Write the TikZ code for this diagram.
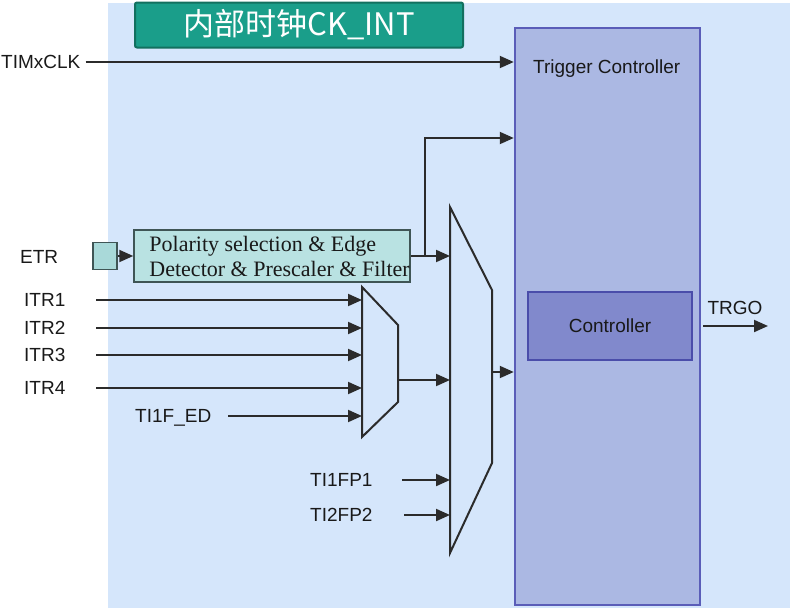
\documentclass[tikz,border=0pt]{standalone}
\usepackage{fontspec}
\setmainfont{Liberation Sans}
\newfontfamily\cjkfont{Noto Sans CJK SC}
\newfontfamily\serifface{Liberation Serif}
\usetikzlibrary{arrows.meta,positioning,calc}

\definecolor{bgblue}{HTML}{D5E6FB}
\definecolor{titlegreen}{HTML}{1A9E8A}
\definecolor{titleedge}{HTML}{12705F}
\definecolor{trigfill}{HTML}{ABB8E3}
\definecolor{trigedge}{HTML}{5A5DB8}
\definecolor{ctrlfill}{HTML}{8189CC}
\definecolor{ctrledge}{HTML}{4A4DAA}
\definecolor{polfill}{HTML}{B9E2E2}
\definecolor{etrfill}{HTML}{A9D9D9}
\definecolor{boxedge}{HTML}{3F5555}
\definecolor{wire}{HTML}{2B2B2B}

\begin{document}
\begin{tikzpicture}[x=1pt,y=-1pt,>={Triangle[length=14pt,width=12pt]},
  wirel/.style={draw=wire,line width=2pt},
  lbl/.style={font=\fontsize{19}{22}\selectfont,text=black!90,inner sep=2pt,text height=13.5pt,text depth=0pt},
  titlebox/.style={fill=titlegreen,draw=titleedge,line width=2pt,rounded corners=2pt,minimum width=328pt,minimum height=45pt,inner sep=0pt,text=white,font=\cjkfont\fontsize{31}{36}\selectfont},
  trigbox/.style={fill=trigfill,draw=trigedge,line width=2.5pt,inner sep=0pt},
  ctrlbox/.style={fill=ctrlfill,draw=ctrledge,line width=2pt,minimum width=164pt,minimum height=68pt,inner sep=0pt,font=\fontsize{19}{22}\selectfont,text=black!90},
  polbox/.style={fill=polfill,draw=boxedge,line width=1.5pt,minimum width=276pt,minimum height=52pt,inner sep=0pt},
  poltext/.style={inner sep=0pt,align=left,text=black!90,font=\serifface\fontsize{22}{25}\selectfont},
  etrbox/.style={fill=etrfill,draw=boxedge,line width=1.5pt,minimum width=24pt,minimum height=27pt,inner sep=0pt}]
\useasboundingbox (0,0) rectangle (790,608);
\fill[bgblue] (108,3) rectangle (790,608);

% title and trigger controller
\node[titlebox] (title) at (299,25) {内部时钟CK\_INT};
\node[trigbox,minimum width=185pt,minimum height=577pt] (trig) at (607.5,316.5) {};
\node[lbl,anchor=west] (trigtxt) at (531,67) {Trigger Controller};
\node[ctrlbox] (ctrl) at (610,326) {Controller};

% multiplexers
\coordinate (m1a) at (362,287);
\coordinate (m1b) at (398,325);
\coordinate (m1c) at (398,402);
\coordinate (m1d) at (362,437);
\draw[wirel] (m1a) -- (m1b) -- (m1c) -- (m1d) -- cycle;
\coordinate (m2a) at (450,207);
\coordinate (m2b) at (492,290);
\coordinate (m2c) at (492,463);
\coordinate (m2d) at (450,553);
\draw[wirel] (m2a) -- (m2b) -- (m2c) -- (m2d) -- cycle;
\coordinate (m1out) at (398,380);
\coordinate (m2out) at (492,372);

% clock input
\node[lbl,anchor=west] (timx) at (-1,62) {TIMxCLK};
\draw[->,wirel] (timx.east) ++(3,0) -- (timx -| trig.west);

% external trigger
\node[lbl,anchor=west] (etr) at (18,257) {ETR};
\node[etrbox] (etrsq) at (105,256) {};
\node[polbox] (pol) at (272,256) {};
\node[poltext,anchor=west] (poltxt) at ($(pol.west)+(16,0)$) {Polarity selection \& Edge\\Detector \& Prescaler \& Filter};
\draw[->,wirel] (etrsq) -- (pol);
\coordinate (split) at ($(pol.east)+(14,0)$);
\draw[->,wirel] (pol.east) -- (pol.east -| m2a);
\draw[->,wirel] (split) |- (trig.west |- 0,138);

% internal triggers
\foreach \i/\y in {1/300,2/328,3/355,4/388}{
  \node[lbl,anchor=west] (itr\i) at (22,\y) {ITR\i};
  \draw[->,wirel] (itr\i.west) ++(74,0) -- (itr\i -| m1a);
}
\node[lbl,anchor=west] (tifed) at (133,416) {TI1F\_ED};
\draw[->,wirel] (tifed.west) ++(95,0) -- (tifed -| m1a);
\draw[->,wirel] (m1out) -- (m1out -| m2a);

% timer inputs
\node[lbl,anchor=west] (tifp1) at (308,480) {TI1FP1};
\draw[->,wirel] (tifp1.west) ++(94,0) -- (tifp1 -| m2a);
\node[lbl,anchor=west] (tifp2) at (308,515) {TI2FP2};
\draw[->,wirel] (tifp2.west) ++(96,0) -- (tifp2 -| m2a);
\draw[->,wirel] (m2out) -- (m2out -| trig.west);

% trigger output
\coordinate (trgoend) at (768,326);
\node[lbl] (trgo) at (735,308) {TRGO};
\draw[->,wirel] (trig.east |- ctrl) ++(2,0) -- (trgoend);
\end{tikzpicture}
\end{document}
